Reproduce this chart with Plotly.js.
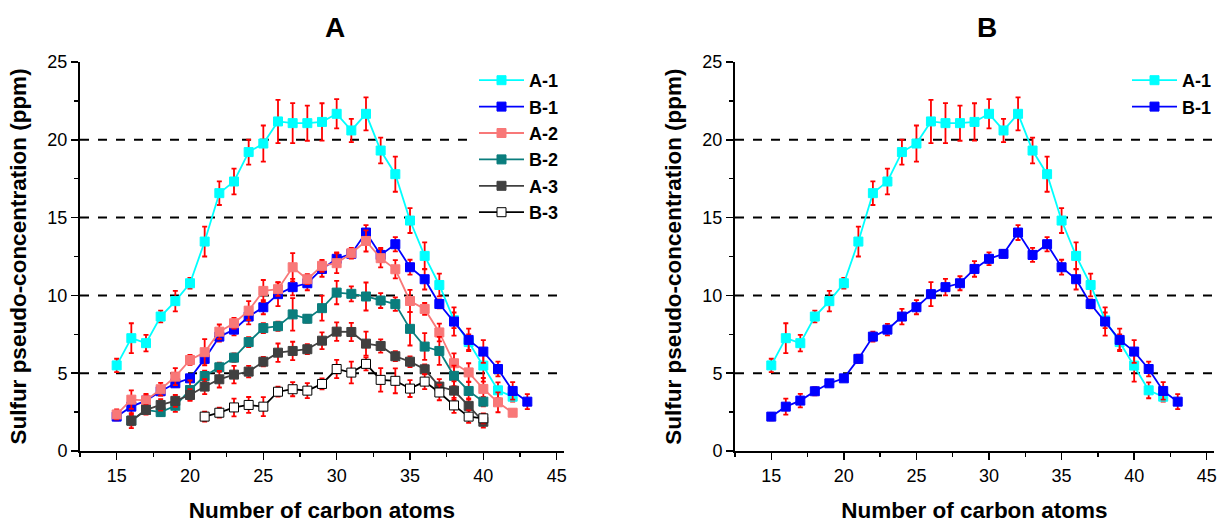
<!DOCTYPE html>
<html>
<head>
<meta charset="utf-8">
<script src="https://cdn.plot.ly/plotly-3.0.1.min.js"></script>
<style>html,body{margin:0;padding:0;background:#fff;}#chart{width:1223px;height:523px;}</style>
</head>
<body>
<div id="chart"></div>
<script>
// ---- Data ----
const A1_x = [15,16,17,18,19,20,21,22,23,24,25,26,27,28,29,30,31,32,33,34,35,36,37,38,39,40,41,42];
const A1_y = [5.5,7.25,6.93,8.64,9.63,10.78,13.46,16.57,17.32,19.21,19.76,21.18,21.07,21.07,21.15,21.67,20.6,21.67,19.31,17.79,14.81,12.54,10.67,8.4,7.0,5.49,3.9,3.49];
const A1_err = [0.43,0.96,0.53,0.38,0.66,0.35,0.96,0.76,0.83,0.8,1.16,1.39,1.29,1.13,1.2,0.94,0.75,1.06,0.83,1.13,0.8,0.87,0.73,0.5,0.5,1.03,0.51,0.32];

const B1_x = [15,16,17,18,19,20,21,22,23,24,25,26,27,28,29,30,31,32,33,34,35,36,37,38,39,40,41,42,43];
const B1_y = [2.21,2.85,3.24,3.84,4.35,4.67,5.92,7.35,7.8,8.64,9.24,10.08,10.53,10.78,11.7,12.35,12.67,14.04,12.6,13.29,11.81,11.04,9.45,8.32,7.14,6.39,5.27,3.86,3.17];
const B1_err = [0.24,0.51,0.43,0.26,0.2,0.15,0.27,0.32,0.37,0.5,0.45,0.77,0.53,0.45,0.5,0.41,0.25,0.48,0.45,0.46,0.48,0.66,0.29,0.91,0.72,0.73,0.48,0.56,0.48];

const A2_x = [15,16,17,18,19,20,21,22,23,24,25,26,27,28,29,30,31,32,33,34,35,36,37,38,39,40,41,42];
const A2_y = [2.35,3.3,3.25,3.97,4.78,5.85,6.35,7.67,8.21,9.02,10.29,10.4,11.81,11.04,11.9,12.07,12.71,13.5,12.39,11.68,9.64,9.13,7.62,5.64,5.05,3.99,3.13,2.46];
const A2_err = [0.32,0.59,0.34,0.41,0.54,0.32,0.84,0.46,0.35,0.61,0.7,0.43,0.91,0.32,0.38,0.64,0.35,0.68,0.59,0.59,0.72,0.38,0.57,0.64,0.59,0.7,0.64,0.2];

const B2_x = [16,17,18,19,20,21,22,23,24,25,26,27,28,29,30,31,32,33,34,35,36,37,38,39,40];
const B2_y = [1.95,2.64,2.5,2.91,3.92,4.82,5.38,6.0,7.0,7.9,8.02,8.78,8.5,9.18,10.18,10.1,9.93,9.67,9.44,7.85,6.71,6.43,4.83,3.86,3.17];
const B2_err = [0.3,0.3,0.25,0.4,0.61,0.35,0.3,0.27,0.32,0.32,0.3,1.05,0.25,0.8,0.75,0.48,0.9,0.48,0.43,1.07,0.86,0.9,0.66,0.56,0.3];

const A3_x = [16,17,18,19,20,21,22,23,24,25,26,27,28,29,30,31,32,33,34,35,36,37,38,39,40];
const A3_y = [1.95,2.64,2.96,3.22,3.6,4.14,4.61,4.91,5.1,5.74,6.32,6.43,6.54,7.09,7.67,7.65,6.9,6.75,6.09,5.74,5.25,4.14,3.88,2.9,1.88];
const A3_err = [0.48,0.27,0.37,0.38,0.37,0.48,0.53,0.56,0.37,0.3,0.59,0.59,0.32,0.54,0.59,0.59,0.77,0.43,0.32,0.34,0.32,0.48,0.59,0.48,0.37];

const B3_x = [21,22,23,24,25,26,27,28,29,30,31,32,33,34,35,36,37,38,39,40];
const B3_y = [2.21,2.46,2.8,2.96,2.85,3.81,3.97,3.88,4.31,5.27,5.04,5.6,4.57,4.51,4.01,4.46,3.76,2.93,2.21,2.1];
const B3_err = [0.32,0.32,0.57,0.51,0.61,0.32,0.45,0.48,0.35,0.59,0.7,0.42,0.75,0.8,0.54,0.48,0.5,0.48,0.4,0.32];

const gridVals = [5, 10, 15, 20];
const panelTitles = ["A", "B"];
const xTitle = "Number of carbon atoms";
const yTitle = "Sulfur pseudo-concentration (ppm)";

// ---- Styles ----
const FONT = "Arial, 'Liberation Sans', sans-serif";
const ERR_COLOR = "#ff0000";

function series(name, x, y, err, color, fill, xa, ya, legend, showlegend) {
  return {
    type: "scatter", mode: "lines+markers", name: name,
    x: x, y: y,
    xaxis: xa, yaxis: ya, legend: legend, showlegend: showlegend,
    line: {color: color, width: 1.8},
    marker: {symbol: "square", size: 9, color: fill, line: {color: color, width: 1}},
    error_y: {type: "data", array: err, visible: true, color: ERR_COLOR, thickness: 1.8, width: 2.5}
  };
}

const data = [
  series("A-1", A1_x, A1_y, A1_err, "#00ffff", "#00ffff", "x", "y", "legend", true),
  series("B-1", B1_x, B1_y, B1_err, "#0000ff", "#0000ff", "x", "y", "legend", true),
  series("A-2", A2_x, A2_y, A2_err, "#f87878", "#f87878", "x", "y", "legend", true),
  series("B-2", B2_x, B2_y, B2_err, "#0a7d7d", "#0a7d7d", "x", "y", "legend", true),
  series("A-3", A3_x, A3_y, A3_err, "#404040", "#404040", "x", "y", "legend", true),
  series("B-3", B3_x, B3_y, B3_err, "#000000", "#ffffff", "x", "y", "legend", true),
  series("A-1", A1_x, A1_y, A1_err, "#00ffff", "#00ffff", "x2", "y2", "legend2", true),
  series("B-1", B1_x, B1_y, B1_err, "#0000ff", "#0000ff", "x2", "y2", "legend2", true)
];

const W = 1223, H = 523;
const xDomA = [80 / W, 564 / W];
const xDomB = [735 / W, 1214 / W];
const yDom = [(H - 451) / H, (H - 62) / H];

function xAxis(dom, anchor) {
  return {
    domain: dom, anchor: anchor, range: [12.5, 45.5],
    tickmode: "linear", tick0: 15, dtick: 5,
    ticks: "outside", ticklen: 7, tickwidth: 1.5, tickcolor: "#000",
    minor: {dtick: 2.5, tick0: 12.5, ticks: "outside", ticklen: 4, tickwidth: 1.5, tickcolor: "#000", showgrid: false},
    showline: true, linecolor: "#000", linewidth: 2, mirror: false,
    showgrid: false, zeroline: false,
    tickfont: {family: FONT, size: 18, color: "#000"},
    title: {text: xTitle, font: {family: FONT, size: 22.5, color: "#000", weight: "bold"}, standoff: 20}
  };
}
function yAxis(anchor) {
  return {
    domain: yDom, anchor: anchor, range: [0, 25],
    tickmode: "linear", tick0: 0, dtick: 5,
    ticks: "outside", ticklen: 7, tickwidth: 1.5, tickcolor: "#000",
    minor: {dtick: 2.5, ticks: "outside", ticklen: 4, tickwidth: 1.5, tickcolor: "#000", showgrid: false},
    showline: true, linecolor: "#000", linewidth: 2, mirror: false,
    showgrid: false, zeroline: false,
    tickfont: {family: FONT, size: 18, color: "#000"},
    title: {text: yTitle, font: {family: FONT, size: 22.5, color: "#000", weight: "bold"}, standoff: 14}
  };
}

const shapes = [];
[["x", "y"], ["x2", "y2"]].forEach(function (ax) {
  gridVals.forEach(function (v) {
    shapes.push({type: "line", layer: "below", xref: ax[0] + " domain", yref: ax[1],
      x0: 0, x1: 1, y0: v, y1: v, line: {color: "#000", width: 2, dash: "dash"}});
  });
});

const legendStyle = {
  font: {family: FONT, size: 18, color: "#000", weight: "bold"},
  bgcolor: "#ffffff", borderwidth: 0, xanchor: "left", yanchor: "top",
  itemwidth: 45, tracegroupgap: 0, itemclick: false
};

const layout = {
  width: W, height: H,
  margin: {l: 0, r: 0, t: 0, b: 0},
  paper_bgcolor: "#fff", plot_bgcolor: "rgba(0,0,0,0)",
  font: {family: FONT, color: "#000"},
  xaxis: xAxis(xDomA, "y"),
  yaxis: yAxis("x"),
  xaxis2: xAxis(xDomB, "y2"),
  yaxis2: yAxis("x2"),
  shapes: shapes,
  legend: Object.assign({x: 474 / W, y: 1 - 62 / H}, legendStyle),
  legend2: Object.assign({x: 1127 / W, y: 1 - 62 / H}, legendStyle),
  annotations: [
    {text: panelTitles[0], xref: "paper", yref: "paper", x: 335 / W, y: 1 - 28 / H, xanchor: "center", yanchor: "middle",
     showarrow: false, font: {family: FONT, size: 28, color: "#000", weight: "bold"}},
    {text: panelTitles[1], xref: "paper", yref: "paper", x: 987 / W, y: 1 - 28 / H, xanchor: "center", yanchor: "middle",
     showarrow: false, font: {family: FONT, size: 28, color: "#000", weight: "bold"}}
  ]
};

Plotly.newPlot("chart", data, layout, {staticPlot: true, displayModeBar: false});
</script>
</body>
</html>
